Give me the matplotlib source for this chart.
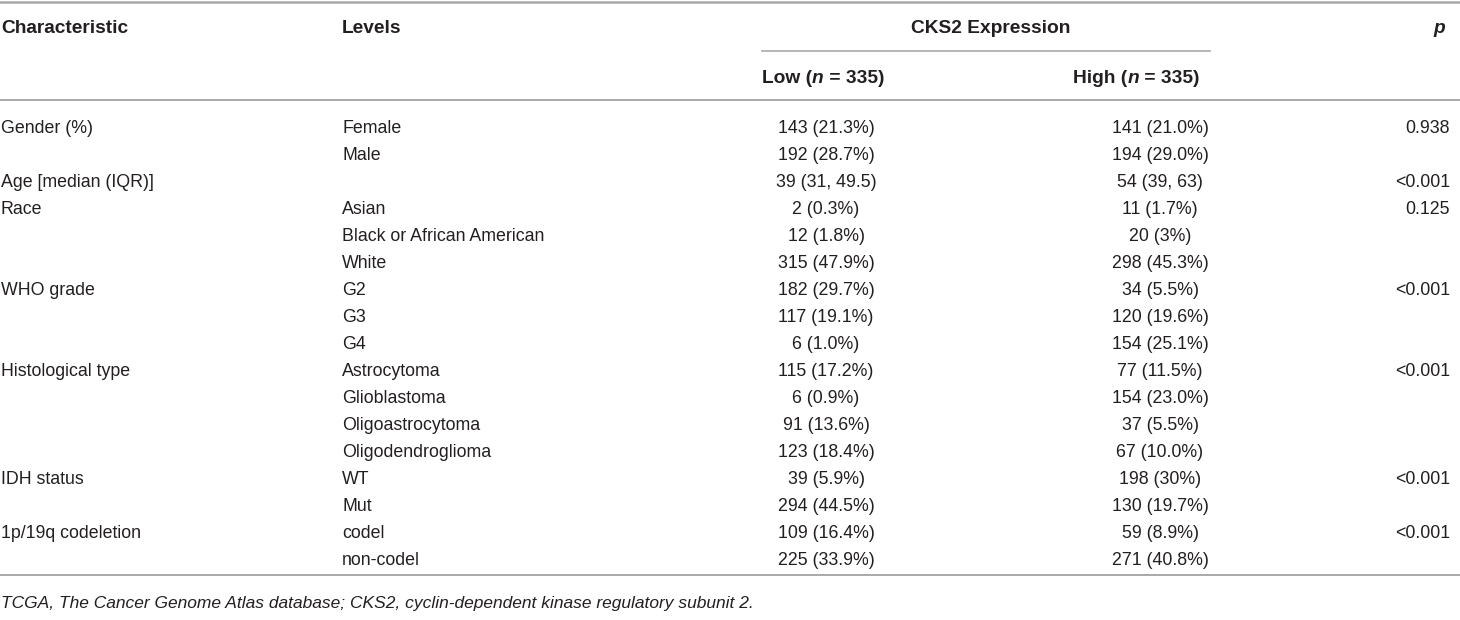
import matplotlib
matplotlib.use("Agg")
import matplotlib.pyplot as plt

# ---- table content ----
characteristics = ["Gender (%)", "", "Age [median (IQR)]", "Race", "", "",
                   "WHO grade", "", "", "Histological type", "", "", "",
                   "IDH status", "", "1p/19q codeletion", ""]
levels = ["Female", "Male", "", "Asian", "Black or African American", "White",
          "G2", "G3", "G4", "Astrocytoma", "Glioblastoma", "Oligoastrocytoma",
          "Oligodendroglioma", "WT", "Mut", "codel", "non-codel"]
low_vals = ["143 (21.3%)", "192 (28.7%)", "39 (31, 49.5)", "2 (0.3%)", "12 (1.8%)",
            "315 (47.9%)", "182 (29.7%)", "117 (19.1%)", "6 (1.0%)", "115 (17.2%)",
            "6 (0.9%)", "91 (13.6%)", "123 (18.4%)", "39 (5.9%)", "294 (44.5%)",
            "109 (16.4%)", "225 (33.9%)"]
high_vals = ["141 (21.0%)", "194 (29.0%)", "54 (39, 63)", "11 (1.7%)", "20 (3%)",
             "298 (45.3%)", "34 (5.5%)", "120 (19.6%)", "154 (25.1%)", "77 (11.5%)",
             "154 (23.0%)", "37 (5.5%)", "67 (10.0%)", "198 (30%)", "130 (19.7%)",
             "59 (8.9%)", "271 (40.8%)"]
p_vals = ["0.938", "", "<0.001", "0.125", "", "", "<0.001", "", "", "<0.001",
          "", "", "", "<0.001", "", "<0.001", ""]
footnote = ("TCGA, The Cancer Genome Atlas database; "
            "CKS2, cyclin-dependent kinase regulatory subunit 2.")

plt.rcParams["font.family"] = ["Liberation Sans", "DejaVu Sans"]
W, H = 1460, 620
fig = plt.figure(figsize=(W / 100, H / 100), dpi=100)
ax = fig.add_axes([0, 0, 1, 1])
ax.set_xlim(0, W)
ax.set_ylim(H, 0)
ax.axis("off")

FS = 12.8      # body
FSH = 13.8     # bold header
TXT = "#231f20"
LINE = "#a7a9ab"

x_char, x_lev, x_low, x_high, x_p = 1, 342, 826, 1160, 1450


def txt(x, y, s, **kw):
    kw.setdefault("fontsize", FS)
    return ax.text(x, y, s, color=TXT, va="baseline", **kw)


def pieces(x, y, parts):
    """bold text with an italic n: chain pieces left to right"""
    prev = None
    for s, it in parts:
        kw = dict(fontsize=FSH, weight="bold", color=TXT,
                  style="italic" if it else "normal")
        if prev is None:
            prev = ax.text(x, y, s, va="baseline", **kw)
        else:
            prev = ax.annotate(s, xy=(1, 0), xycoords=prev, ha="left",
                               va="bottom", **kw)


# rules
ax.plot([0, W], [2, 2], color=LINE, lw=1.8)
ax.plot([762, 1210], [51, 51], color=LINE, lw=1.2)
ax.plot([0, W], [100, 100], color=LINE, lw=1.4)
ax.plot([0, W], [575, 575], color=LINE, lw=1.4)

# header
hy = 33
txt(x_char, hy, "Characteristic", fontsize=FSH, weight="bold")
txt(x_lev, hy, "Levels", fontsize=FSH, weight="bold")
txt(991, hy, "CKS2 Expression", fontsize=FSH, weight="bold", ha="center")
txt(x_p - 5, hy, "p", fontsize=FSH, weight="bold", style="italic", ha="right")
pieces(762, 83, [("Low (", False), ("n", True), (" = 335)", False)])
pieces(1073, 83, [("High (", False), ("n", True), (" = 335)", False)])

# body
y0, dy = 133, 27
for i in range(len(levels)):
    y = y0 + i * dy
    txt(x_char, y, characteristics[i])
    txt(x_lev, y, levels[i])
    txt(x_low, y, low_vals[i], ha="center")
    txt(x_high, y, high_vals[i], ha="center")
    txt(x_p, y, p_vals[i], ha="right")

txt(x_char, 608, footnote, style="italic", fontsize=12.5)

fig.savefig("out.png", dpi=100)
